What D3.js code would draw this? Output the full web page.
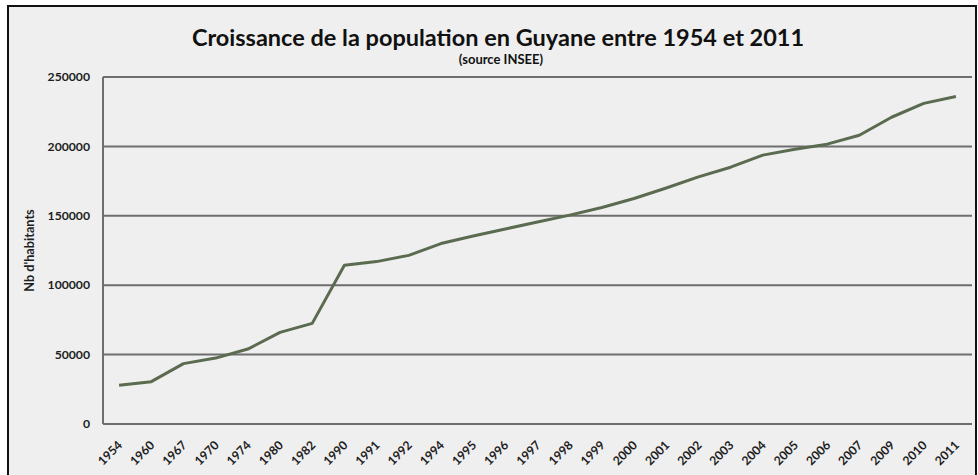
<!DOCTYPE html>
<html><head><meta charset="utf-8">
<script src="https://cdn.jsdelivr.net/npm/d3@7"></script>
<style>
html,body{margin:0;padding:0;background:#fff;}
svg{display:block;}
text{font-family:Lato,"Open Sans",sans-serif;}
</style></head>
<body>
<script>
const years = ["1954","1960","1967","1970","1974","1980","1982","1990","1991","1992","1994","1995","1996","1997","1998","1999","2000","2001","2002","2003","2004","2005","2006","2007","2009","2010","2011"];
const population = [28000,30500,43500,47500,54000,66000,72500,114400,117000,121500,130000,135500,140500,145500,150500,156000,162500,170000,178000,185000,193700,198000,201600,208000,221000,231000,236000];
const yTicks = [0,50000,100000,150000,200000,250000];
const titleText = "Croissance de la population en Guyane entre 1954 et 2011";
const subtitleText = "(source INSEE)";
const yAxisTitle = "Nb d'habitants";

const W = 978, H = 475;
const m = {left:103, right:6, top:77, bottom:51};
const svg = d3.select("body").append("svg").attr("width",W).attr("height",H);

svg.append("rect").attr("x",8).attr("y",6).attr("width",968).attr("height",H)
  .attr("fill","#efefef").attr("stroke","#111").attr("stroke-width",2);

const x = d3.scaleBand().domain(years).range([m.left, W-m.right]);
const y = d3.scaleLinear().domain([0,250000]).range([H-m.bottom, m.top]);

// gridlines
svg.append("g").selectAll("line").data(yTicks).join("line")
  .attr("x1",m.left).attr("x2",W-m.right)
  .attr("y1",d=>y(d)).attr("y2",d=>y(d))
  .attr("stroke","#6e6e6e").attr("stroke-width",2);
// left axis line
svg.append("line").attr("x1",m.left).attr("x2",m.left).attr("y1",y(250000)).attr("y2",y(0))
  .attr("stroke","#6e6e6e").attr("stroke-width",2);

// y tick labels
svg.append("g").selectAll("text").data(yTicks).join("text")
  .attr("x",m.left-13).attr("y",d=>y(d)).attr("dy","0.35em")
  .attr("text-anchor","end").attr("font-size",12.2).attr("font-weight","bold").attr("fill","#1e1e1e")
  .text(d=>d);

// x tick labels
svg.append("g").selectAll("text").data(years).join("text")
  .attr("transform",d=>`translate(${x(d)+x.bandwidth()/2+4},${H-m.bottom+22}) rotate(-45)`)
  .attr("text-anchor","end").attr("font-size",12.2).attr("font-weight","bold").attr("fill","#1e1e1e")
  .text(d=>d);

// line
const line = d3.line().x((d,i)=>x(years[i])+x.bandwidth()/2).y(d=>y(d));
svg.append("path").datum(population).attr("d",line)
  .attr("fill","none").attr("stroke","#5b6b4f").attr("stroke-width",3).attr("stroke-linejoin","round");

// titles
svg.append("text").attr("x",498).attr("y",46).attr("text-anchor","middle")
  .attr("font-size",23.5).attr("font-weight","bold").attr("fill","#111").text(titleText);
svg.append("text").attr("x",501).attr("y",64).attr("text-anchor","middle")
  .attr("font-size",13).attr("font-weight","bold").attr("fill","#111").text(subtitleText);
svg.append("text").attr("transform",`translate(34,${(y(0)+y(250000))/2}) rotate(-90)`)
  .attr("text-anchor","middle").attr("font-size",12.7).attr("font-weight","bold").attr("fill","#1e1e1e")
  .text(yAxisTitle);
</script>
</body></html>
